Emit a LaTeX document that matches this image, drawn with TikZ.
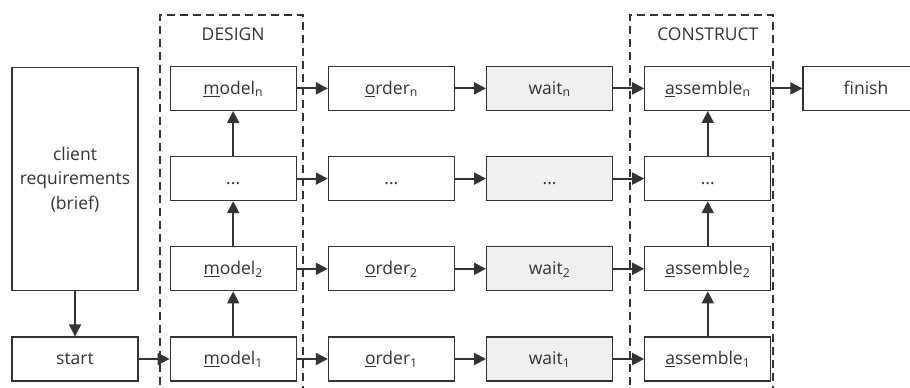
\documentclass[tikz,border=0pt]{standalone}
\usepackage{fontspec}
\setmainfont{Open Sans}
\usetikzlibrary{positioning, arrows.meta}
\definecolor{ink}{HTML}{333333}
\definecolor{waitgray}{HTML}{F0F0F0}
\newcommand{\idx}[1]{\textsubscript{#1}}
\tikzset{
    >={Triangle[length=12pt,width=12pt]}, % filled arrowheads
    node distance=45pt and 31pt, % rows and columns
    box/.style={draw=ink, line width=1.2pt, minimum width=126pt, minimum height=44pt,
        inner sep=0pt, text=ink, font=\fontsize{17.5}{24.5}\selectfont},
    cell/.style={box, text height=12pt, text depth=0pt},
    waitcell/.style={cell, fill=waitgray},
    flow/.style={->, draw=ink, line width=2pt},
    frame/.style={draw=ink, line width=1.8pt, dash pattern=on 8pt off 5pt},
    title/.style={text=ink, font=\fontsize{17.5}{20}\selectfont},
}

\begin{document}
\begin{tikzpicture}[x=1pt, y=1pt]
    \useasboundingbox (0,0) rectangle (910,388);
    \clip (0,0) rectangle (910,388);

    % phases
    \draw[frame] (160,-10) rectangle (303,373);
    \draw[frame] (630,-10) rectangle (773,373);

    \node[cell] (start) at (75,29) {start};
    \node[box, minimum height=223pt, align=center] (client) [above=of start] {client\\requirements\\(brief)};

    % design
    \node[cell] (m1) [right=of start] {\underline{m}odel\idx{1}};
    \node[cell] (m2) [above=of m1] {\underline{m}odel\idx{2}};
    \node[cell] (md) [above=of m2] {...};
    \node[cell] (mn) [above=of md] {\underline{m}odel\idx{n}};
    \node[title] (design) at ([yshift=32pt]mn.north) {DESIGN};

    % orders
    \node[cell] (o1) [right=of m1] {\underline{o}rder\idx{1}};
    \node[cell] (o2) [right=of m2] {\underline{o}rder\idx{2}};
    \node[cell] (od) [right=of md] {...};
    \node[cell] (on) [right=of mn] {\underline{o}rder\idx{n}};

    % waiting
    \node[waitcell] (w1) [right=of o1] {wait\idx{1}};
    \node[waitcell] (w2) [right=of o2] {wait\idx{2}};
    \node[waitcell] (wd) [right=of od] {...};
    \node[waitcell] (wn) [right=of on] {wait\idx{n}};

    % construct
    \node[cell] (a1) [right=of w1] {\underline{a}ssemble\idx{1}};
    \node[cell] (a2) [right=of w2] {\underline{a}ssemble\idx{2}};
    \node[cell] (ad) [right=of wd] {...};
    \node[cell] (an) [right=of wn] {\underline{a}ssemble\idx{n}};
    \node[title] (construct) at ([yshift=32pt]an.north) {CONSTRUCT};

    \node[cell] (finish) [right=of an] {finish};

    \draw[flow] (client) -- (start);
    \draw[flow] (start) -- (m1);
    \draw[flow] (m1) -- (m2);
    \draw[flow] (m2) -- (md);
    \draw[flow] (md) -- (mn);
    \draw[flow] (a1) -- (a2);
    \draw[flow] (a2) -- (ad);
    \draw[flow] (ad) -- (an);
    \foreach \r in {1,2,d,n} {
        \draw[flow] (m\r) -- (o\r);
        \draw[flow] (o\r) -- (w\r);
        \draw[flow] (w\r) -- (a\r);
    }
    \draw[flow] (an) -- (finish);
\end{tikzpicture}
\end{document}
